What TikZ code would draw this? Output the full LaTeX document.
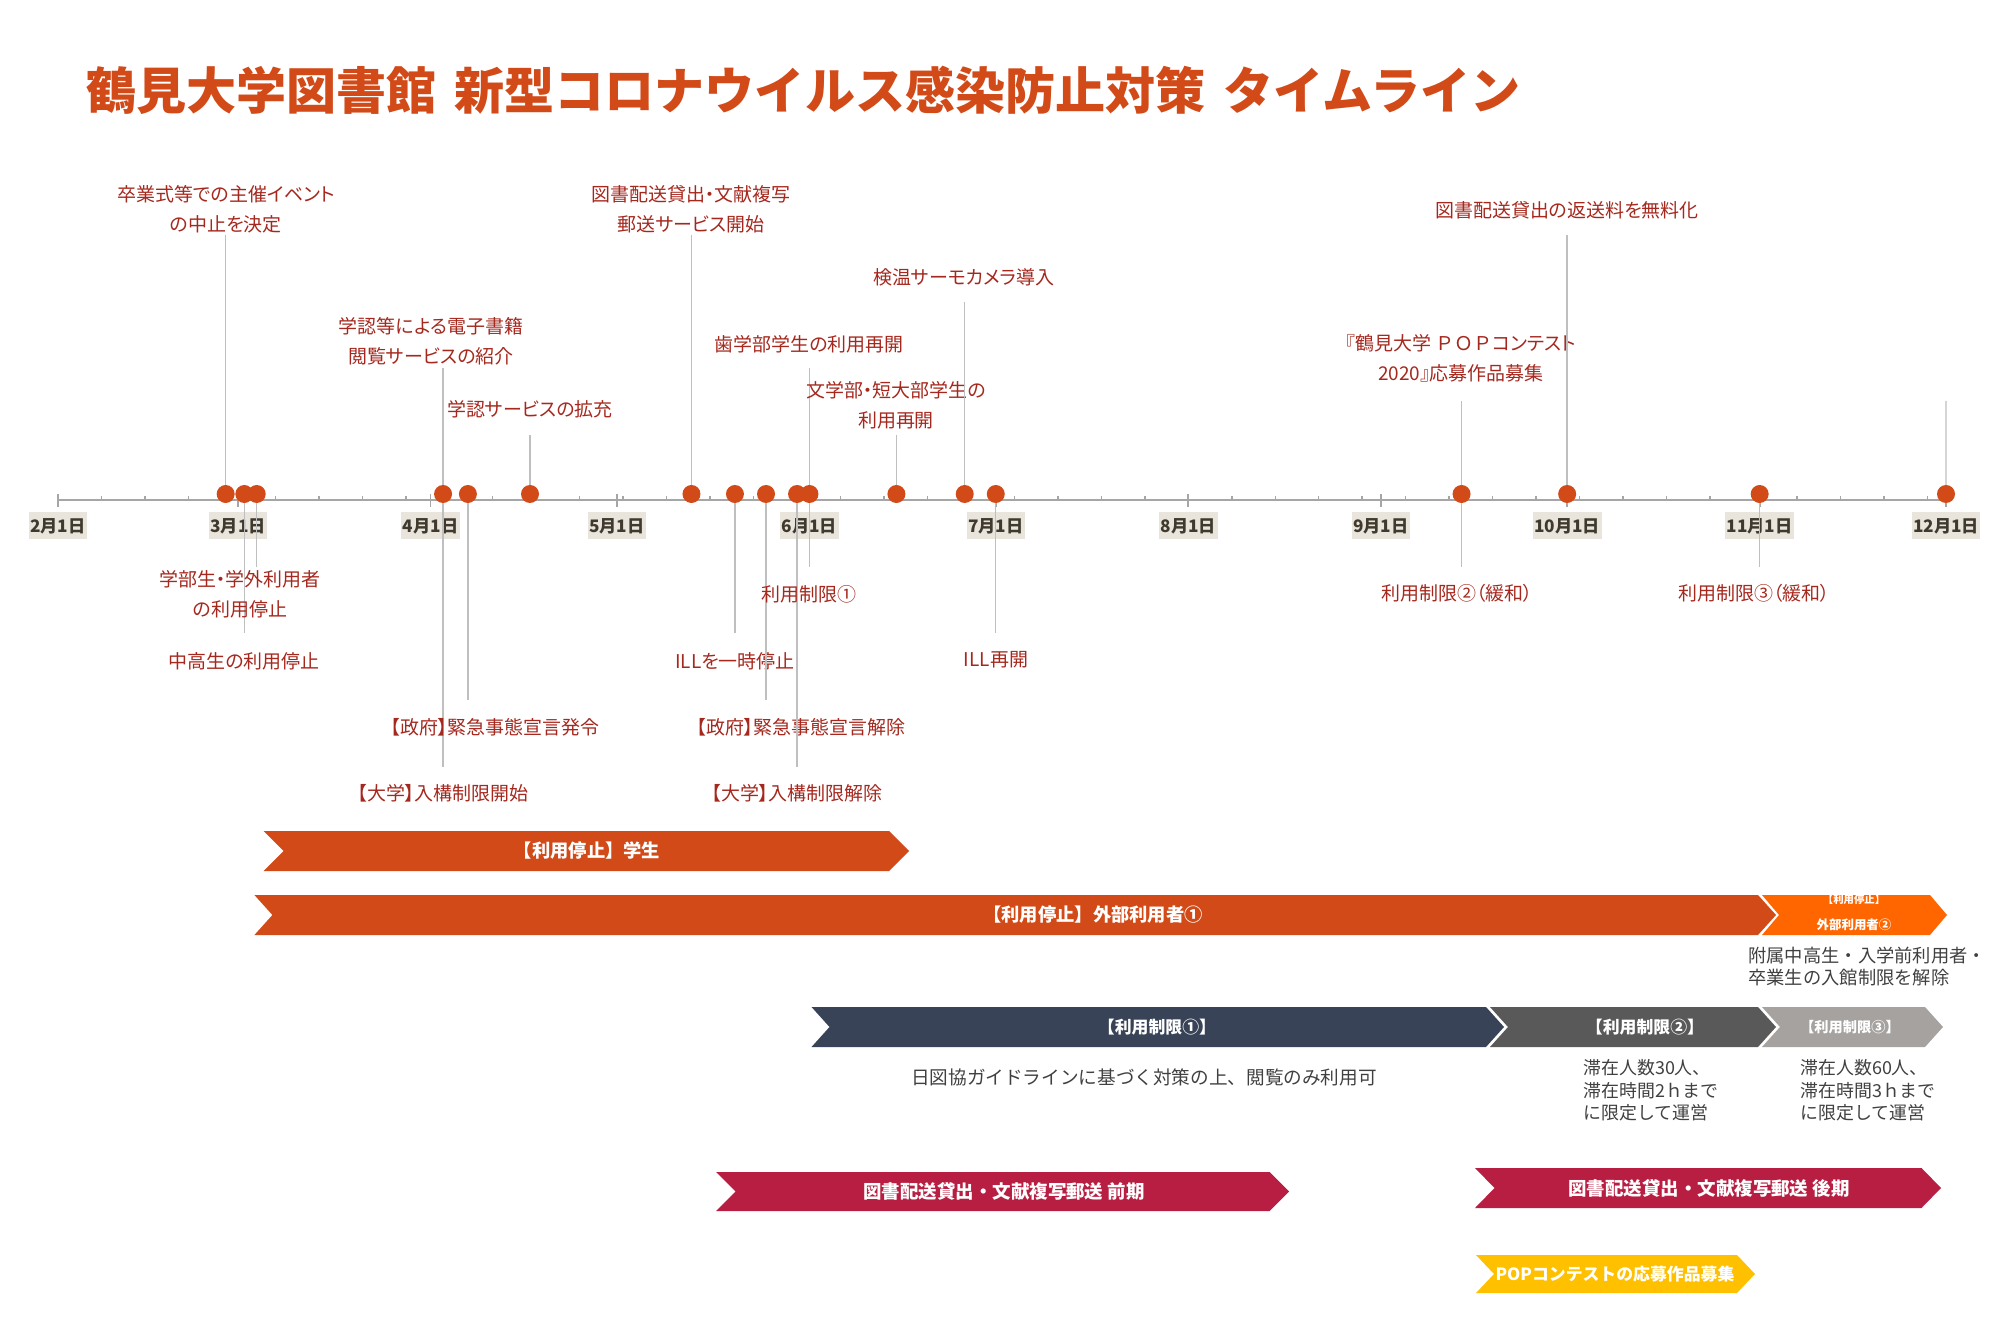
\documentclass[tikz,border=0pt]{standalone}
\usepackage{fontspec}
\setmainfont{Noto Sans CJK JP}
\newfontfamily\evfont[RawFeature=+palt]{Noto Sans CJK JP}
\usetikzlibrary{positioning}

\definecolor{tsured}{RGB}{209,74,24}
\definecolor{labred}{RGB}{165,40,30}
\definecolor{axisgray}{RGB}{166,166,166}
\definecolor{stemgray}{RGB}{191,191,191}
\definecolor{datebg}{RGB}{233,229,220}
\definecolor{datefg}{RGB}{64,58,46}
\definecolor{slate}{RGB}{56,67,87}
\definecolor{midgray}{RGB}{89,89,89}
\definecolor{palegray}{RGB}{165,162,160}
\definecolor{crimson}{RGB}{184,30,66}
\definecolor{gold}{RGB}{255,192,0}
\definecolor{brightorange}{RGB}{255,102,0}
\definecolor{bodygray}{RGB}{64,64,64}

\tikzset{
  evdot/.style={circle, fill=tsured, minimum size=3.6mm, inner sep=0pt},
  stemline/.style={draw=stemgray, line width=0.28mm},
  evlabel/.style={text=labred, align=center, inner sep=0pt,
    font=\evfont\fontsize{10.8pt}{17.3pt}\selectfont},
  datebox/.style={fill=datebg, text=datefg, minimum height=5.4mm,
    inner xsep=0.3mm, inner ysep=0pt, font=\bfseries\fontsize{9.8pt}{10pt}\selectfont},
  bartext/.style={text=white, inner sep=0pt, font=\bfseries\fontsize{10.4pt}{12pt}\selectfont},
  bodytext/.style={text=bodygray, inner sep=0pt, font=\fontsize{10.4pt}{12.2pt}\selectfont},
}

% chevron: x1, x2, ytop, ybottom, depth, colour
\newcommand{\chev}[6]{%
  \fill[#6] (#1,#3) -- ({#2-#5},#3) -- (#2,{(#3+#4)/2}) -- ({#2-#5},#4)
    -- (#1,#4) -- ({#1+#5},{(#3+#4)/2}) -- cycle;}

\begin{document}
\begin{tikzpicture}[x=0.2mm, y=-0.2mm]
  \useasboundingbox (0,0) rectangle (2014,1330);

  % Title
  \node[anchor=west, inner sep=0pt, text=tsured,
    font=\bfseries\fontsize{28.5pt}{30pt}\selectfont] (title) at (86,90)
    {鶴見大学図書館\hspace{0.35em}新型コロナウイルス感染防止対策\hspace{0.35em}タイムライン};

  % Axis with weekly and monthly ticks
  \draw[axisgray, line width=0.34mm] (58,500) -- (1946,500);
  \foreach \dd in {0,7,...,301}
    \draw[axisgray, line width=0.3mm] ({58+6.2105*\dd},496) -- ({58+6.2105*\dd},500);
  \foreach \dd/\mm in {0/2,29/3,60/4,90/5,121/6,151/7,182/8,213/9,243/10,274/11,304/12}{
    \draw[axisgray, line width=0.34mm] ({58+6.2105*\dd},494) -- ({58+6.2105*\dd},507);
    \node[datebox] (m\mm) at ({58+6.2105*\dd},526) {\mm 月1日};
  }

  % Event positions (days since 1 Feb)
  \foreach \dd in {27,30,32,62,66,76,102,109,114,119,121,135,146,151,226,243,274,304}
    \coordinate (p\dd) at ({58+6.2105*\dd},494);

  % Stems and labels
  \foreach \dd/\sy/\lx/\ly/\txt [count=\k] in {
      27/235/226/209.5/{卒業式等での主催イベント\\の中止を決定},
      62/368/431/341.5/{学認等による電子書籍\\閲覧サービスの紹介},
      76/435/530/409/{学認サービスの拡充},
      102/235/691/209.5/{図書配送貸出・文献複写\\郵送サービス開始},
      121/368/809/344/{歯学部学生の利用再開},
      135/435/896/405/{文学部・短大部学生の\\利用再開},
      146/302/964/277/{検温サーモカメラ導入},
      226/401/1461/358.5/{『鶴見大学 {\rmfamily ＰＯＰ}コンテスト\\2020』応募作品募集},
      243/235/1567/210/{図書配送貸出の返送料を無料化},
      30/633/244/661/{中高生の利用停止},
      32/567/240/594.5/{学部生・学外利用者\\の利用停止},
      62/767/443/793/{【大学】入構制限開始},
      66/700/495/727/{【政府】緊急事態宣言発令},
      109/633/735/661/{ILLを一時停止},
      114/700/801/727/{【政府】緊急事態宣言解除},
      119/767/797/793/{【大学】入構制限解除},
      121/567/809/594/{利用制限①},
      151/633/996/660/{ILL再開},
      226/567/1457/593/{利用制限②（緩和）},
      274/567/1754/593/{利用制限③（緩和）}}{
    \coordinate (s\k) at ({58+6.2105*\dd},\sy);
    \draw[stemline] (p\dd) -- (s\k);
    \node[evlabel] (l\k) at (\lx,\ly) {\txt};
  }
  \coordinate (s0) at (1946,401);
  \draw[stemline] (p304) -- (s0);

  % Event dots
  \foreach \dd in {27,30,32,62,66,76,102,109,114,119,121,135,146,151,226,243,274,304}
    \node[evdot] (e\dd) at (p\dd) {};

  % Closure bars
  \chev{263.6}{909}{831}{871}{20}{tsured}
  \node[bartext] (stopst) at (587,851) {【利用停止】学生};
  \chev{254.4}{1776}{895}{935}{18}{tsured}
  \node[bartext] (stopex) at (1093,915) {【利用停止】外部利用者①};
  \chev{1762}{1947}{895}{935}{17}{brightorange}
  \node[bartext, font=\bfseries\fontsize{5.9pt}{6pt}\selectfont] (stopextop) at (1854,900) {【利用停止】};
  \node[bartext, font=\bfseries\fontsize{7.1pt}{8pt}\selectfont] (stopexbot) at (1854,925) {外部利用者②};
  \node[bodytext, anchor=west, align=left] (stopexnote) at (1748,966.5)
    {附属中高生・入学前利用者・\\卒業生の入館制限を解除};

  % Restriction bars
  \chev{811.5}{1504}{1007}{1047}{18}{slate}
  \node[bartext, font=\bfseries\fontsize{9.6pt}{10pt}\selectfont] (lim1) at (1157,1027) {【利用制限①】};
  \chev{1490}{1776}{1007}{1047}{18}{midgray}
  \node[bartext, font=\bfseries\fontsize{9.6pt}{10pt}\selectfont] (lim2) at (1645,1027) {【利用制限②】};
  \chev{1762}{1943}{1007}{1047}{18}{palegray}
  \node[bartext, font=\bfseries\fontsize{8.1pt}{9pt}\selectfont] (lim3) at (1850,1027) {【利用制限③】};
  \node[bodytext, font=\fontsize{10.6pt}{12pt}\selectfont] (lim1note) at (1144,1077)
    {日図協ガイドラインに基づく対策の上、閲覧のみ利用可};
  \node[bodytext, anchor=west, align=left, font=\fontsize{10.2pt}{12.75pt}\selectfont] (lim2note) at (1583,1090.5)
    {滞在人数30人、\\滞在時間2ｈまで\\に限定して運営};
  \node[bodytext, anchor=west, align=left, font=\fontsize{10.2pt}{12.75pt}\selectfont] (lim3note) at (1800,1090.5)
    {滞在人数60人、\\滞在時間3ｈまで\\に限定して運営};

  % Delivery service and contest bars
  \chev{716}{1289}{1172}{1211}{19.5}{crimson}
  \node[bartext, font=\bfseries\fontsize{10.5pt}{12pt}\selectfont] (deliv1) at (1004,1191) {図書配送貸出・文献複写郵送 前期};
  \chev{1475}{1941}{1168}{1208}{19.5}{crimson}
  \node[bartext, font=\bfseries\fontsize{10.5pt}{12pt}\selectfont] (deliv2) at (1709,1188) {図書配送貸出・文献複写郵送 後期};
  \chev{1476}{1755}{1255}{1293}{18}{gold}
  \node[bartext, font=\bfseries\fontsize{9.6pt}{10pt}\selectfont] (popbar) at (1615,1274) {POPコンテストの応募作品募集};
\end{tikzpicture}
\end{document}
